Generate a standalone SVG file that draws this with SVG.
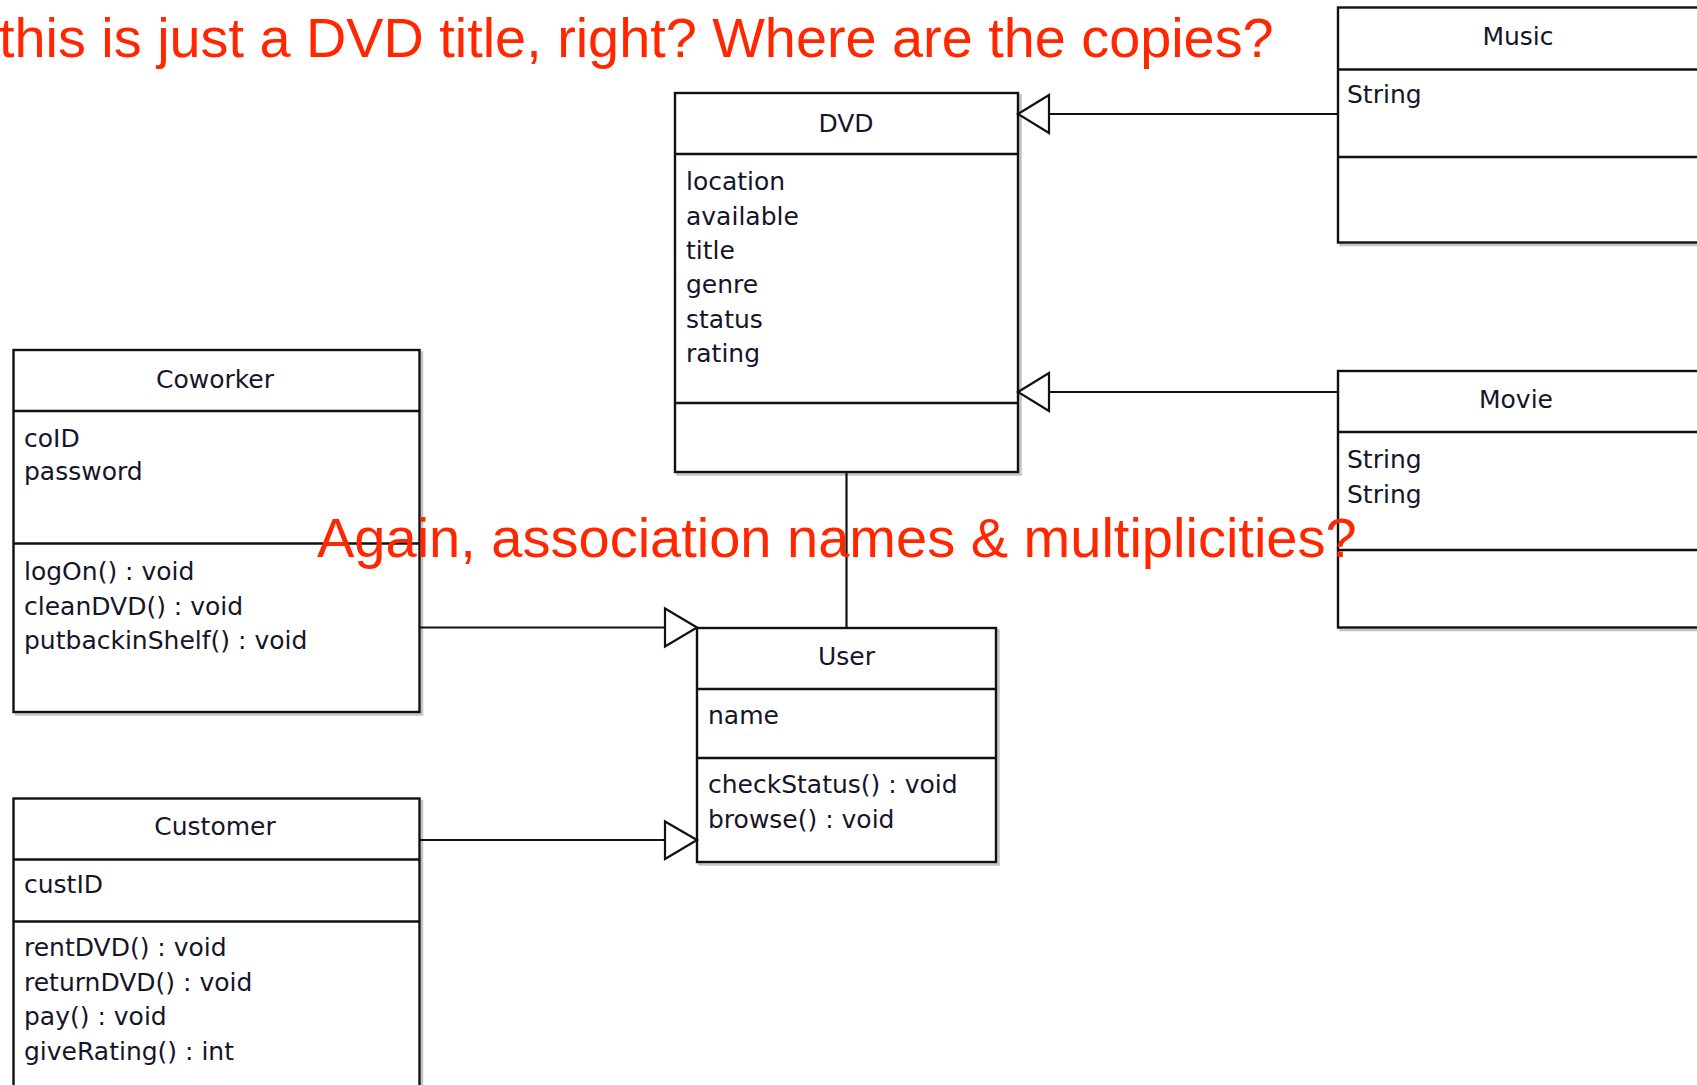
<svg xmlns="http://www.w3.org/2000/svg" width="1697" height="1085" viewBox="0 0 1697 1085">
<style>
.box{fill:#fff;stroke:#111;stroke-width:2.4}
.sh{fill:none;stroke:#c4c4c4;stroke-width:2.5}
.div{stroke:#111;stroke-width:2.4}
.t{font-family:"DejaVu Sans",sans-serif;font-size:25px;fill:#15152a}
.c{text-anchor:middle}
.con line{stroke:#111;stroke-width:2.2}
.con polygon{fill:#fff;stroke:#111;stroke-width:2.2}
.note{font-family:"Liberation Sans",Arial,sans-serif;fill:#ff2600}
</style>
<rect width="1697" height="1085" fill="#fff"/>

<g id="DVD">
<rect class="sh" x="677.5" y="95.5" width="343" height="379"/>
<rect class="box" x="675" y="93" width="343" height="379"/>
<line class="div" x1="675" y1="154" x2="1018" y2="154"/>
<line class="div" x1="675" y1="403" x2="1018" y2="403"/>
<text class="t c" x="846" y="132">DVD</text>
<text class="t" x="686" y="190">location</text>
<text class="t" x="686" y="225">available</text>
<text class="t" x="686" y="259">title</text>
<text class="t" x="686" y="293">genre</text>
<text class="t" x="686" y="328">status</text>
<text class="t" x="686" y="362">rating</text>
</g>

<g id="Music">
<rect class="sh" x="1340.5" y="10" width="361" height="235"/>
<rect class="box" x="1338" y="7.5" width="361" height="235"/>
<line class="div" x1="1338" y1="69.5" x2="1699" y2="69.5"/>
<line class="div" x1="1338" y1="157" x2="1699" y2="157"/>
<text class="t c" x="1518" y="45">Music</text>
<text class="t" x="1347" y="103">String</text>
</g>

<g id="Movie">
<rect class="sh" x="1340.5" y="373.5" width="361" height="256.5"/>
<rect class="box" x="1338" y="371" width="361" height="256.5"/>
<line class="div" x1="1338" y1="432" x2="1699" y2="432"/>
<line class="div" x1="1338" y1="550" x2="1699" y2="550"/>
<text class="t c" x="1516" y="408">Movie</text>
<text class="t" x="1347" y="468">String</text>
<text class="t" x="1347" y="503">String</text>
</g>

<g id="User">
<rect class="sh" x="699.5" y="630.5" width="299" height="234"/>
<rect class="box" x="697" y="628" width="299" height="234"/>
<line class="div" x1="697" y1="689" x2="996" y2="689"/>
<line class="div" x1="697" y1="758" x2="996" y2="758"/>
<text class="t c" x="846.5" y="665">User</text>
<text class="t" x="708" y="724">name</text>
<text class="t" x="708" y="793">checkStatus() : void</text>
<text class="t" x="708" y="828">browse() : void</text>
</g>

<g id="Coworker">
<rect class="sh" x="16" y="352.5" width="406" height="362"/>
<rect class="box" x="13.5" y="350" width="406" height="362"/>
<line class="div" x1="13.5" y1="411" x2="419.5" y2="411"/>
<line class="div" x1="13.5" y1="543.5" x2="419.5" y2="543.5"/>
<text class="t c" x="215" y="388">Coworker</text>
<text class="t" x="24" y="447">coID</text>
<text class="t" x="24" y="480">password</text>
<text class="t" x="24" y="580">logOn() : void</text>
<text class="t" x="24" y="615">cleanDVD() : void</text>
<text class="t" x="24" y="649">putbackinShelf() : void</text>
</g>

<g id="Customer">
<rect class="sh" x="16" y="801" width="406" height="290"/>
<rect class="box" x="13.5" y="798.5" width="406" height="289"/>
<line class="div" x1="13.5" y1="859.5" x2="419.5" y2="859.5"/>
<line class="div" x1="13.5" y1="921.5" x2="419.5" y2="921.5"/>
<text class="t c" x="215" y="835">Customer</text>
<text class="t" x="24" y="893">custID</text>
<text class="t" x="24" y="956">rentDVD() : void</text>
<text class="t" x="24" y="991">returnDVD() : void</text>
<text class="t" x="24" y="1025">pay() : void</text>
<text class="t" x="24" y="1060">giveRating() : int</text>
</g>

<g id="connectors" class="con">
<line x1="1338" y1="114" x2="1049" y2="114"/>
<polygon points="1018,114 1049,95 1049,133"/>
<line x1="1338" y1="392" x2="1049" y2="392"/>
<polygon points="1018,392 1049,373 1049,411"/>
<line x1="846.5" y1="472" x2="846.5" y2="628"/>
<line x1="419.5" y1="627.5" x2="665" y2="627.5"/>
<polygon points="697,627.5 665,608.5 665,646.5"/>
<line x1="419.5" y1="840" x2="665" y2="840"/>
<polygon points="697,840 665,821.5 665,859"/>
</g>

<g id="notes">
<text class="note" x="-1" y="57" font-size="55.8">this is just a DVD title, right? Where are the copies?</text>
<text class="note" x="317" y="557" font-size="56">Again, association names &amp; multiplicities?</text>
</g>
</svg>
